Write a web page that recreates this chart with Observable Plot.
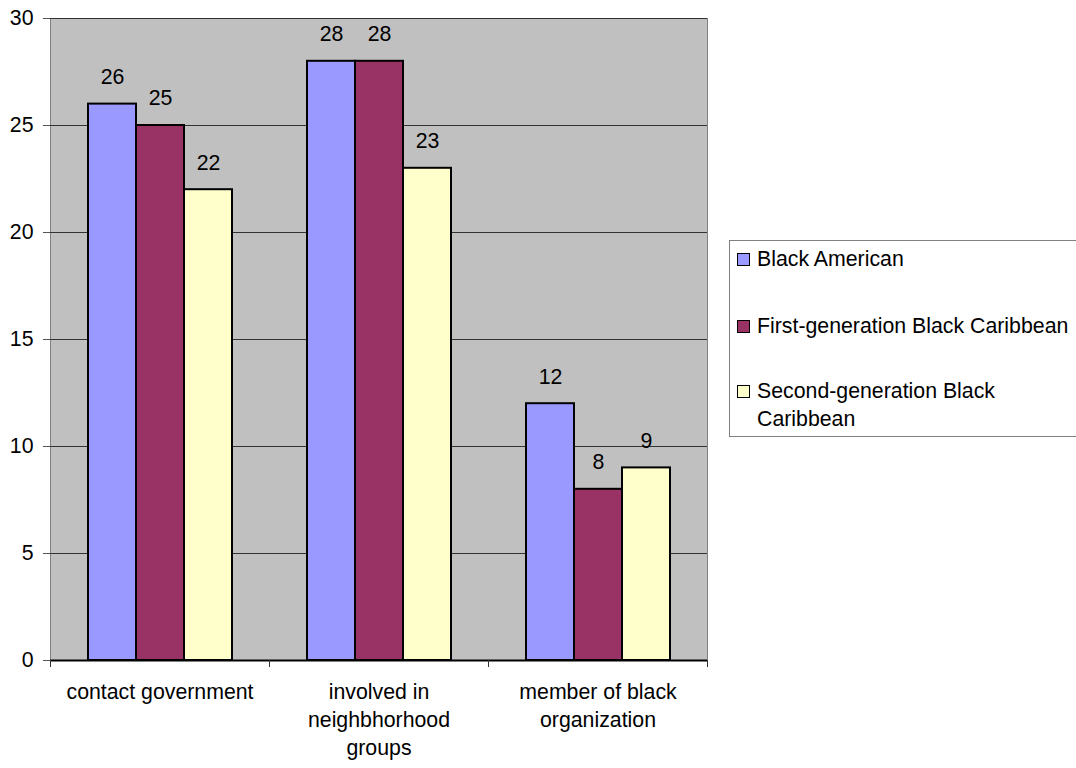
<!DOCTYPE html>
<html>
<head>
<meta charset="utf-8">
<script src="https://cdn.jsdelivr.net/npm/d3@7"></script>
<script src="https://cdn.jsdelivr.net/npm/@observablehq/plot@0.6"></script>
<style>
  html, body { margin: 0; padding: 0; background: #fff; overflow: hidden; }
  #wrap { position: relative; width: 1076px; height: 768px; font-family: "Liberation Sans", Arial, sans-serif; }
  #legend {
    position: absolute; left: 729px; top: 240px; width: 360px; height: 197px;
    border: 1px solid #808080; background: #fff; box-sizing: border-box;
    font-size: 21.3px; color: #000;
  }
  .item { position: absolute; left: 7px; display: flex; align-items: flex-start; line-height: 28px; }
  .sw { width: 11px; height: 11px; border: 1.5px solid #000; margin-top: 8px; margin-right: 7px; flex: none; }
</style>
</head>
<body>
<div id="wrap"><div id="chart"></div><div id="legend"></div></div>
<script>
// Activity categories along the x axis, with their wrapped tick labels
const categories = ["contact government", "involved in neighbhorhood groups", "member of black organization"];
const categoryLabels = ["contact government", "involved in\nneighbhorhood\ngroups", "member of black\norganization"];

// Respondent groups (series)
const groups = ["Black American", "First-generation Black Caribbean", "Second-generation Black Caribbean"];
const groupLegendLabels = ["Black American", "First-generation Black Caribbean", "Second-generation Black\nCaribbean"];
const groupColors = ["#9999FF", "#993366", "#FFFFCC"];

// Percentages per group, in category order
const blackAmerican = [26, 28, 12];
const firstGenCaribbean = [25, 28, 8];
const secondGenCaribbean = [22, 23, 9];

const yTicks = [0, 5, 10, 15, 20, 25, 30];

const seriesValues = [blackAmerican, firstGenCaribbean, secondGenCaribbean];
const rows = [];
categories.forEach((c, i) => {
  groups.forEach((g, j) => rows.push({category: c, group: g, value: seriesValues[j][i]}));
});

const W = 1076, H = 768;
const mL = 50, mR = 369, mT = 18, mB = 108;
const facetW = (W - mL - mR) / categories.length;
const font = "Liberation Sans, Arial, sans-serif";

const chart = Plot.plot({
  width: W,
  height: H,
  marginLeft: mL,
  marginRight: mR,
  marginTop: mT,
  marginBottom: mB,
  style: {fontFamily: font, fontSize: "21px", color: "#000", background: "transparent"},
  fx: {domain: categories, padding: 0, label: null},
  x: {domain: groups, paddingInner: 0, paddingOuter: 0.745, axis: null},
  y: {domain: [0, 30], label: null},
  color: {domain: groups, range: groupColors},
  marks: [
    // plot area background with its grey border
    Plot.frame({facet: "super", fill: "#C0C0C0", stroke: "#808080"}),
    Plot.gridY(yTicks.filter(d => d > 0), {stroke: "#333", strokeOpacity: 1, strokeWidth: 1}),
    Plot.axisY(yTicks, {tickSize: 7, tickPadding: 10, fontSize: 21.3, stroke: "#555", label: null}),
    Plot.barY(rows, {fx: "category", x: "group", y: "value", fill: "group", stroke: "#000", strokeWidth: 2}),
    Plot.text(rows, {fx: "category", x: "group", y: "value", text: d => String(d.value), dy: -27, lineAnchor: "middle", fontSize: 21.3, fill: "#000"}),
    Plot.ruleY([0], {stroke: "#000", strokeWidth: 2}),
    Plot.axisFx({anchor: "bottom", tickSize: 0, tickPadding: 19, fontSize: 21.3, lineHeight: 1.31, tickFormat: d => categoryLabels[categories.indexOf(d)], label: null}),
    Plot.axisFx({anchor: "bottom", tickSize: 7, text: null, dx: -facetW / 2, stroke: "#333", label: null}),
    Plot.axisFx(categories.slice(-1), {anchor: "bottom", tickSize: 7, text: null, dx: facetW / 2, stroke: "#333", label: null})
  ]
});
document.getElementById("chart").appendChild(chart);

// Legend box to the right of the plot
const legend = document.getElementById("legend");
const rowTops = [4, 71, 136];
groups.forEach((g, i) => {
  const item = document.createElement("div");
  item.className = "item";
  item.style.top = rowTops[i] + "px";
  const sw = document.createElement("div");
  sw.className = "sw";
  sw.style.background = groupColors[i];
  const label = document.createElement("div");
  label.style.whiteSpace = "pre";
  label.textContent = groupLegendLabels[i];
  item.appendChild(sw);
  item.appendChild(label);
  legend.appendChild(item);
});
</script>
</body>
</html>
